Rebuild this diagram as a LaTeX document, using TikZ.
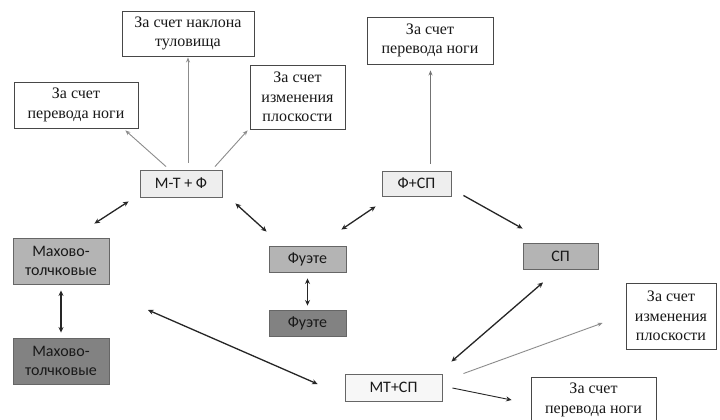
\documentclass[tikz,border=0pt]{standalone}
\usepackage{fontspec}
\setmainfont{Liberation Serif}
\newfontfamily\boxsans{Carlito}
\usetikzlibrary{arrows.meta,calc}
\definecolor{lightfill}{HTML}{EEEEEE}
\definecolor{midfill}{HTML}{B4B4B4}
\definecolor{darkfill}{HTML}{828282}
\definecolor{inkc}{HTML}{262626}
\definecolor{thinc}{HTML}{8C8C8C}
\begin{document}
\begin{tikzpicture}[x=1pt,y=-1pt,
  serifbox/.style={draw=inkc!85,line width=0.9pt,fill=white,inner sep=0pt,align=center,
    font=\fontsize{16}{19.5}\selectfont,text=black!90},
  sansbox/.style={draw=black!60,line width=0.9pt,inner sep=0pt,align=center,
    font=\boxsans\fontsize{16}{19}\selectfont,text=black!90},
  lightbox/.style={sansbox,fill=lightfill},
  midbox/.style={sansbox,fill=midfill},
  darkbox/.style={sansbox,fill=darkfill},
  thinarrow/.style={draw=thinc,line width=0.9pt,-{Stealth[length=5pt,width=4pt]}},
  mainarrow/.style={draw=inkc,line width=1.3pt,-{Stealth[length=5.5pt,width=5pt]}},
  botharrow/.style={draw=inkc,line width=1.3pt,{Stealth[length=5.5pt,width=5pt]}-{Stealth[length=5.5pt,width=5pt]}}
]
\useasboundingbox (0,0) rectangle (720,420);
\fill[white] (0,0) rectangle (720,420);
\begin{scope}
\clip (0,0) rectangle (720,420);
% white (serif) boxes
\node[serifbox,minimum width=132pt,minimum height=45pt] (tilt) at (188,33.5) {За счет наклона\\туловища};
\node[serifbox,minimum width=124pt,minimum height=46pt] (legL) at (76,105) {За счет\\перевода ноги};
\node[serifbox,minimum width=95pt,minimum height=64pt] (planeL) at (297.5,97) {За счет\\изменения\\плоскости};
\node[serifbox,minimum width=126pt,minimum height=47pt] (legR) at (430,40.5) {За счет\\перевода ноги};
\node[serifbox,minimum width=90pt,minimum height=66pt] (planeR) at (671,316) {За счет\\изменения\\плоскости};
\node[serifbox,minimum width=125pt,minimum height=46pt] (legB) at (593.5,400) {За счет\\перевода ноги};
% sans boxes
\node[lightbox,minimum width=82pt,minimum height=27pt] (mtf) at (181,183.5) {М-Т + Ф};
\node[lightbox,minimum width=69pt,minimum height=25pt] (fsp) at (416.5,183.5) {Ф+СП};
\node[midbox,minimum width=96pt,minimum height=46pt] (mah1) at (61,261) {Махово-\\толчковые};
\node[darkbox,minimum width=96pt,minimum height=46pt] (mah2) at (61,361) {Махово-\\толчковые};
\node[midbox,minimum width=77pt,minimum height=26pt] (fue1) at (307.5,259) {Фуэте};
\node[darkbox,minimum width=77pt,minimum height=26pt] (fue2) at (307.5,323) {Фуэте};
\node[midbox,minimum width=75pt,minimum height=26pt] (sp) at (560.5,256) {СП};
\node[sansbox,fill=white!97!black,minimum width=97pt,minimum height=27pt] (mtsp) at (393.5,387.5) {МТ+СП};
\coordinate (free) at (148,310);
% connectors
\draw[thinarrow] ($(mtf.north)+(-15,-3)$) -- ($(legL.south east)+(-13,2)$);
\draw[thinarrow] ($(mtf.north)+(7,-7)$) -- ($(tilt.south)+(0,1)$);
\draw[thinarrow] ($(mtf.north)+(34,-3)$) -- ($(planeL.south west)+(-2,1)$);
\draw[thinarrow,draw=black!55,line width=1.1pt] ($(fsp.north)+(14,-7)$) -- ($(legR.south)+(0.5,6)$);
\draw[botharrow] ($(mtf.south west)+(-11,4)$) -- ($(mah1.north east)+(-15,-14)$);
\draw[botharrow] ($(mtf.south east)+(13,6)$) -- ($(fue1.north west)+(-2,-14)$);
\draw[botharrow] ($(fsp.south west)+(-6,10)$) -- ($(fue1.north east)+(-5,-16)$);
\draw[mainarrow] ($(fsp.south east)+(12,-1)$) -- ($(sp.north west)+(0,-14)$);
\draw[botharrow] ($(mah1.south)+(0,6)$) -- ($(mah2.north)+(0,-5)$);
\draw[botharrow,line width=1pt] ($(fue1.south)+(0,6)$) -- ($(fue2.north)+(0,-4)$);
\draw[botharrow] (free) -- ($(mtsp.west)+(-27,-3.5)$);
\draw[botharrow] ($(sp.south)+(-17.5,13)$) -- ($(mtsp.north east)+(9,-12)$);
\draw[thinarrow] ($(mtsp.north east)+(21,0)$) -- ($(planeR.west)+(-23,7)$);
\draw[mainarrow,line width=0.9pt] ($(mtsp.east)+(10,0.5)$) -- ($(legB.west)+(-19,0)$);
\end{scope}
\end{tikzpicture}
\end{document}
